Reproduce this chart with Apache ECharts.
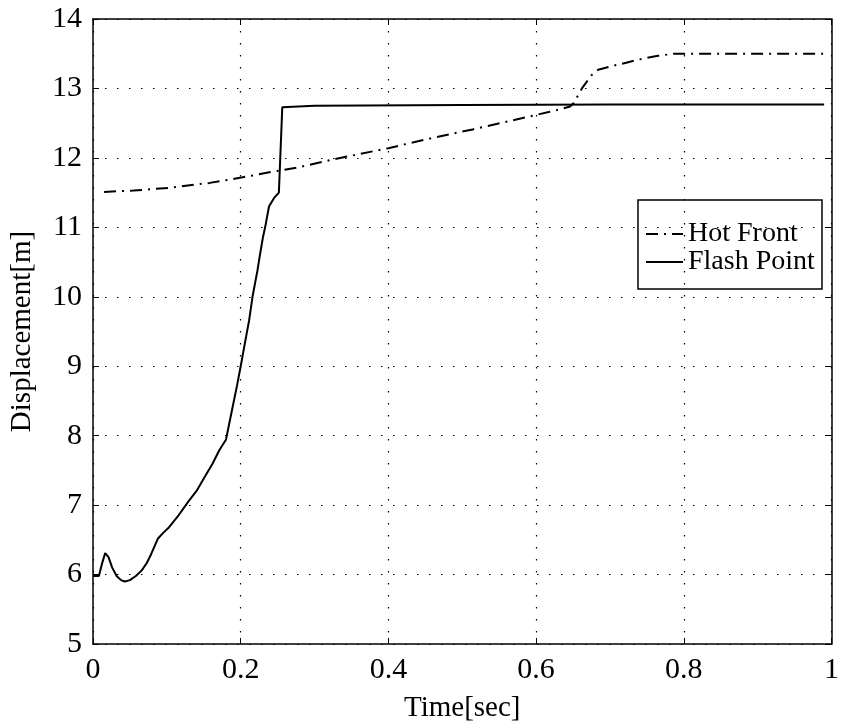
<!DOCTYPE html>
<html>
<head>
<meta charset="utf-8">
<script src="https://cdn.jsdelivr.net/npm/echarts@6/dist/echarts.min.js"></script>
<style>
  html, body { margin: 0; padding: 0; background: #fff; }
  #chart { width: 842px; height: 728px; }
</style>
</head>
<body>
<div id="chart"></div>
<script>
// values
const hotTime = [0.015, 0.055, 0.104, 0.158, 0.2025, 0.243, 0.281, 0.326, 0.40, 0.465, 0.514, 0.568, 0.617, 0.633, 0.646, 0.651, 0.662, 0.675, 0.684, 0.702, 0.722, 0.736, 0.765, 0.787, 0.80, 0.99]
const hotDisp = [11.51, 11.53, 11.57, 11.64, 11.72, 11.80, 11.87, 11.98, 12.14, 12.30, 12.41, 12.54, 12.66, 12.70, 12.74, 12.79, 13.0, 13.19, 13.27, 13.32, 13.37, 13.41, 13.47, 13.50, 13.5, 13.5]

const flashTime = [0, 0.008, 0.012, 0.0165, 0.021, 0.026, 0.032, 0.038, 0.043, 0.05, 0.058, 0.066, 0.073, 0.079, 0.088, 0.095, 0.102, 0.115, 0.129, 0.14, 0.151, 0.162, 0.171, 0.18, 0.185, 0.189, 0.195, 0.2, 0.206, 0.2114, 0.216, 0.2227, 0.226, 0.23, 0.234, 0.2383, 0.245, 0.2517, 0.2563, 0.3, 0.5, 0.7, 0.99]
const flashDisp = [5.98, 5.98, 6.15, 6.31, 6.25, 6.1, 5.98, 5.92, 5.90, 5.92, 5.98, 6.06, 6.17, 6.30, 6.52, 6.6, 6.67, 6.84, 7.05, 7.2, 7.4, 7.6, 7.79, 7.94, 8.2, 8.41, 8.72, 9.0, 9.35, 9.66, 10.0, 10.38, 10.6, 10.85, 11.05, 11.3, 11.42, 11.5, 12.73, 12.75, 12.76, 12.77, 12.77]

const seriesNames = ['Hot Front', 'Flash Point']
const xTicks = { min: 0, max: 1, interval: 0.2 }
const yTicks = { min: 5, max: 14, interval: 1 }

const font = 'Liberation Serif'
const chart = echarts.init(document.getElementById('chart'))

const frame = { show: true, onZero: false, lineStyle: { color: '#000', width: 1.5 } }
const tickIn = { show: true, inside: true, length: 6, lineStyle: { color: '#000', width: 1 } }
const dotted = { show: true, lineStyle: { color: '#000', width: 1.2, type: [1.5, 10.5] } }

chart.setOption({
  animation: false,
  backgroundColor: '#fff',
  grid: { left: 91, right: 7, top: 19, bottom: 84 },
  legend: {
    orient: 'vertical',
    left: 645,
    top: 220,
    padding: 0,
    itemGap: 0,
    itemWidth: 37,
    itemHeight: 14,
    itemStyle: { color: 'rgba(0,0,0,0)', borderWidth: 0 },
    textStyle: { fontFamily: font, fontSize: 28, color: '#000', lineHeight: 24 },
    data: seriesNames,
  },
  graphic: [{
    type: 'rect',
    shape: { x: 638, y: 200, width: 184, height: 89 },
    style: { fill: 'none', stroke: '#000', lineWidth: 1.5 },
    silent: true,
  }],
  xAxis: [{
    type: 'value', ...xTicks,
    name: 'Time[sec]', nameLocation: 'middle', nameGap: 50,
    nameTextStyle: { fontFamily: font, fontSize: 29, color: '#000' },
    axisLine: frame, axisTick: tickIn, splitLine: dotted,
    axisLabel: { fontFamily: font, fontSize: 30, color: '#000', margin: 11 },
  }, {
    type: 'value', ...xTicks, position: 'top',
    axisLine: frame, axisTick: tickIn, splitLine: { show: false }, axisLabel: { show: false },
  }],
  yAxis: [{
    type: 'value', ...yTicks,
    name: 'Displacement[m]', nameLocation: 'middle', nameGap: 56,
    nameTextStyle: { fontFamily: font, fontSize: 29, color: '#000' },
    axisLine: frame, axisTick: tickIn, splitLine: dotted,
    axisLabel: { fontFamily: font, fontSize: 30, color: '#000', margin: 11 },
  }, {
    type: 'value', ...yTicks, position: 'right',
    axisLine: frame, axisTick: tickIn, splitLine: { show: false }, axisLabel: { show: false },
  }],
  series: [{
    name: seriesNames[0],
    type: 'line',
    symbol: 'none',
    data: hotTime.map((t, i) => [t, hotDisp[i]]),
    lineStyle: { color: '#000', width: 2, type: [12, 6, 2, 6] },
    itemStyle: { color: '#000' },
  }, {
    name: seriesNames[1],
    type: 'line',
    symbol: 'none',
    data: flashTime.map((t, i) => [t, flashDisp[i]]),
    lineStyle: { color: '#000', width: 2 },
    itemStyle: { color: '#000' },
  }],
})
</script>
</body>
</html>
